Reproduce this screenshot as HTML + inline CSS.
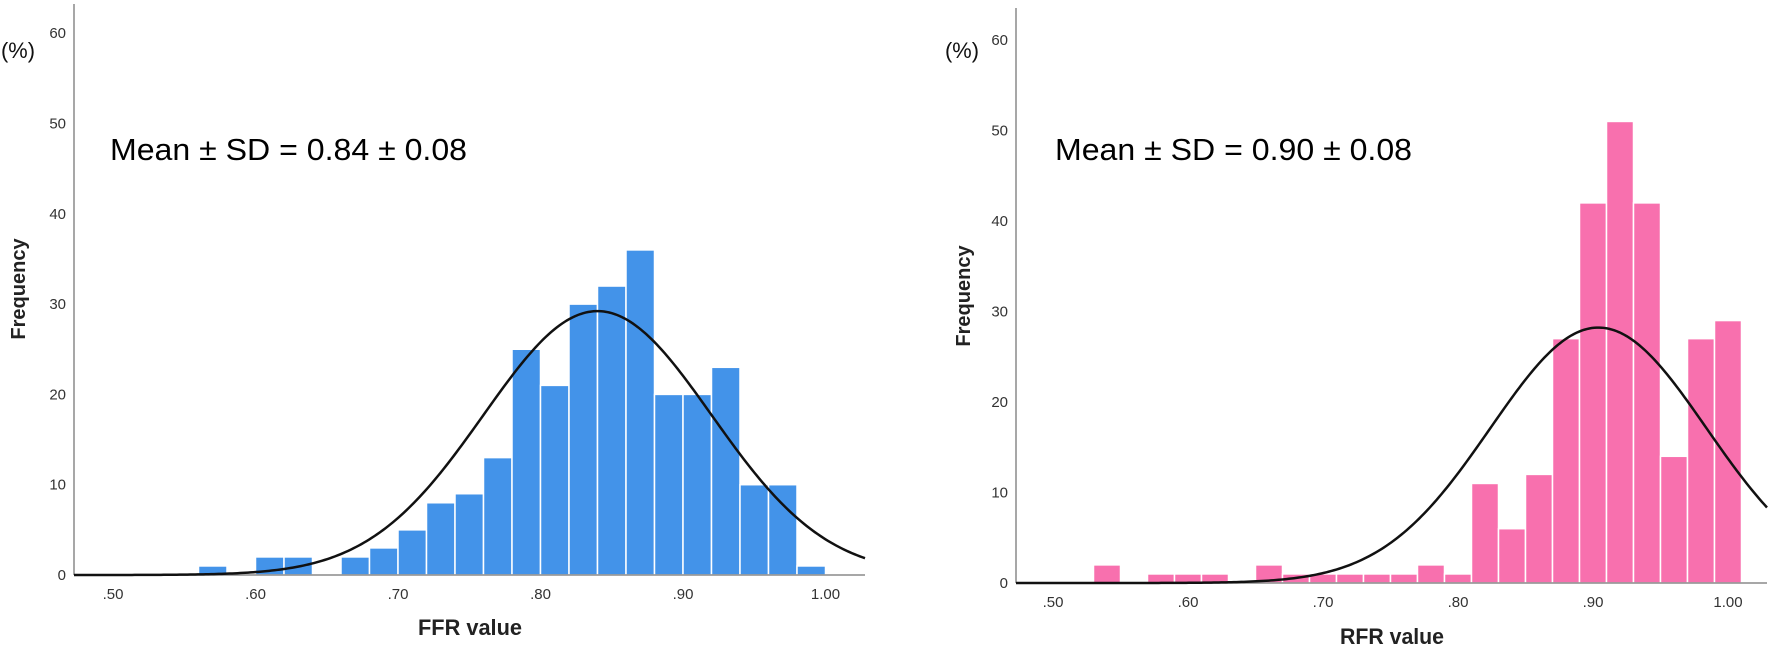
<!DOCTYPE html>
<html><head><meta charset="utf-8"><style>
html,body{margin:0;padding:0;background:#fff;}
svg{display:block;}
text{font-family:"Liberation Sans",sans-serif;}
</style></head><body>
<svg id="chart" width="1772" height="649" viewBox="0 0 1772 649" xmlns="http://www.w3.org/2000/svg"></svg>
<script>
// ---- data ----
const ffrBinStarts = [0.56,0.58,0.60,0.62,0.64,0.66,0.68,0.70,0.72,0.74,0.76,0.78,0.80,0.82,0.84,0.86,0.88,0.90,0.92,0.94,0.96,0.98];
const ffrCounts    = [1,0,2,2,0,2,3,5,8,9,13,25,21,30,32,36,20,20,23,10,10,1];
const ffrMean = 0.84, ffrSd = 0.08, ffrN = 293;
const rfrBinStarts = [0.53,0.55,0.57,0.59,0.61,0.63,0.65,0.67,0.69,0.71,0.73,0.75,0.77,0.79,0.81,0.83,0.85,0.87,0.89,0.91,0.93,0.95,0.97,0.99];
const rfrCounts    = [2,0,1,1,1,0,2,1,1,1,1,1,2,1,11,6,12,27,42,51,42,14,27,29];
const rfrMean = 0.904, rfrSd = 0.08, rfrN = 283;
const binWidth = 0.02;
const yTicks = [0,10,20,30,40,50,60];
const xTicks = [0.5,0.6,0.7,0.8,0.9,1.0];
const xTickLabels = [".50",".60",".70",".80",".90","1.00"];

const NS = "http://www.w3.org/2000/svg";
const svg = document.getElementById('chart');
function mk(tag, attrs, parent, txt){
  const e = document.createElementNS(NS, tag);
  for (const k in attrs) e.setAttribute(k, attrs[k]);
  if (txt !== undefined) e.textContent = txt;
  (parent||svg).appendChild(e);
  return e;
}

function drawPanel(p){
  const g = mk('g', {});
  
  
  const xs = v => p.x0 + (v - 0.5) * p.xScale;
  const ys = v => p.base - v * p.yScale;
  const xMin = 0.5 + (p.axisLeft - p.x0) / p.xScale;
  const xMax = 0.5 + (p.axisRight - p.x0) / p.xScale;
  p.starts.forEach((s, i) => {
    const c = p.counts[i];
    if (c <= 0) return;
    const r = mk('rect', {x: xs(s), y: ys(c), width: binWidth * p.xScale, height: c * p.yScale,
      fill: p.color, stroke: '#fff', 'stroke-width': 1.5}, g);
    
    
  });
  const ya = mk('line', {x1: p.axisLeft, y1: p.axisTop, x2: p.axisLeft, y2: p.base, stroke: '#8a8a8a', 'stroke-width': 1.5}, g);
  
  
  const xa = mk('line', {x1: p.axisLeft, y1: p.base, x2: p.axisRight, y2: p.base, stroke: '#8a8a8a', 'stroke-width': 1.5}, g);
  
  
  yTicks.forEach(t => {
    const tx = mk('text', {x: p.axisLeft - 8, y: ys(t) + 5, 'text-anchor': 'end', 'font-size': 15, fill: '#333'}, g, String(t));
    
    
  });
  xTicks.forEach((t, i) => {
    const tx = mk('text', {x: xs(t), y: p.base + 24, 'text-anchor': 'middle', 'font-size': 15, fill: '#333'}, g, xTickLabels[i]);
    
    
  });
  let d = '';
  const steps = 300;
  for (let k = 0; k <= steps; k++){
    const v = xMin + (xMax - xMin) * k / steps;
    const f = p.n * binWidth / (p.sd * Math.sqrt(2 * Math.PI)) * Math.exp(-0.5 * Math.pow((v - p.mean) / p.sd, 2));
    d += (k ? 'L' : 'M') + xs(v).toFixed(2) + ',' + ys(f).toFixed(2);
  }
  const cv = mk('path', {d: d, fill: 'none', stroke: '#111', 'stroke-width': 2.5}, g);
  
  
  const yt = mk('text', {x: 0, y: 0, transform: 'translate(' + p.freqX + ',' + p.freqY + ') rotate(-90)', 'text-anchor': 'middle', 'font-size': 20, 'font-weight': 'bold', fill: '#222'}, g, 'Frequency');
  
  
  const pc = mk('text', {x: p.pctX, y: 58, 'font-size': 22, fill: '#111', textLength: 34, lengthAdjust: 'spacingAndGlyphs'}, g, '(%)');
  
  
  const xt = mk('text', {x: p.titleX, y: p.titleY, 'text-anchor': 'middle', 'font-size': 22, 'font-weight': 'bold', fill: '#222', textLength: 104, lengthAdjust: 'spacingAndGlyphs'}, g, p.title);
  
  
  const mt = mk('text', {x: p.meanX, y: 160, 'font-size': 31, fill: '#000', textLength: p.meanW, lengthAdjust: 'spacingAndGlyphs'}, g, p.meanText);
  
  
}

drawPanel({id:'ffr', starts: ffrBinStarts, counts: ffrCounts, mean: ffrMean, sd: ffrSd, n: ffrN,
  color:'#4393E9', x0:113, xScale:1425, base:575, yScale:9.03, axisLeft:74, axisRight:865, axisTop:4,
  freqX:25, freqY:289, pctX:1, titleX:470, titleY:635, title:'FFR value',
  meanX:110, meanW:357, meanText:'Mean ± SD = 0.84 ± 0.08'});
drawPanel({id:'rfr', starts: rfrBinStarts, counts: rfrCounts, mean: rfrMean, sd: rfrSd, n: rfrN,
  color:'#F870AE', x0:1053, xScale:1350, base:583, yScale:9.05, axisLeft:1016, axisRight:1767, axisTop:8,
  freqX:970, freqY:296, pctX:945, titleX:1392, titleY:644, title:'RFR value',
  meanX:1055, meanW:357, meanText:'Mean ± SD = 0.90 ± 0.08'});
</script>
</body></html>
